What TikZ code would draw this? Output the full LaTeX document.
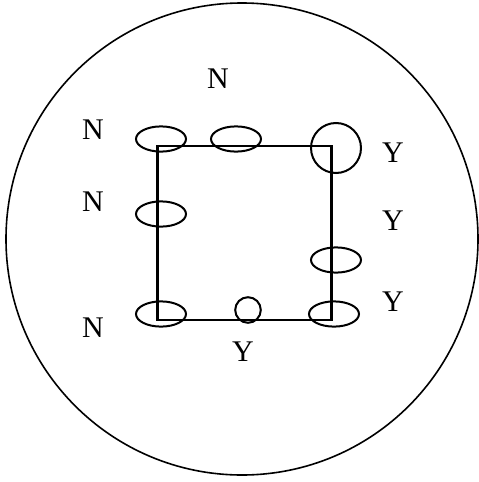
\documentclass[tikz,border=0pt]{standalone}
\usepackage{fontspec}
\setmainfont{Liberation Serif}
\tikzset{
  every picture/.style={line width=1.6pt},
  lbl/.style={font=\fontsize{30}{30}\selectfont, inner sep=0pt},
  ring/.style={draw, line width=2pt},
}
\begin{document}
\begin{tikzpicture}[x=1pt, y=-1pt]
  \useasboundingbox (0,0) rectangle (479,482);
  \draw (242,239) circle (236);
  \draw[line width=2.2pt] (157.5,146) rectangle (331.5,320);
  % ellipses on the square
  \foreach \x/\y in {161/139, 236/139, 161/214, 336/260, 161/314, 334/314}
    \draw[ring] (\x,\y) ellipse (25 and 12.6);
  \draw[ring] (336,148) circle (25);
  \draw[ring] (248,310) circle (12.8);
  % labels
  \node[lbl] (ntop) at (218,79) {N};
  \node[lbl] (nup) at (93,130) {N};
  \node[lbl] (nmid) at (93,202) {N};
  \node[lbl] (nlow) at (93,328) {N};
  \node[lbl] (yup) at (393,153) {Y};
  \node[lbl] (ymid) at (393,221) {Y};
  \node[lbl] (ylow) at (393,302) {Y};
  \node[lbl] (ybot) at (243,352) {Y};
\end{tikzpicture}
\end{document}
